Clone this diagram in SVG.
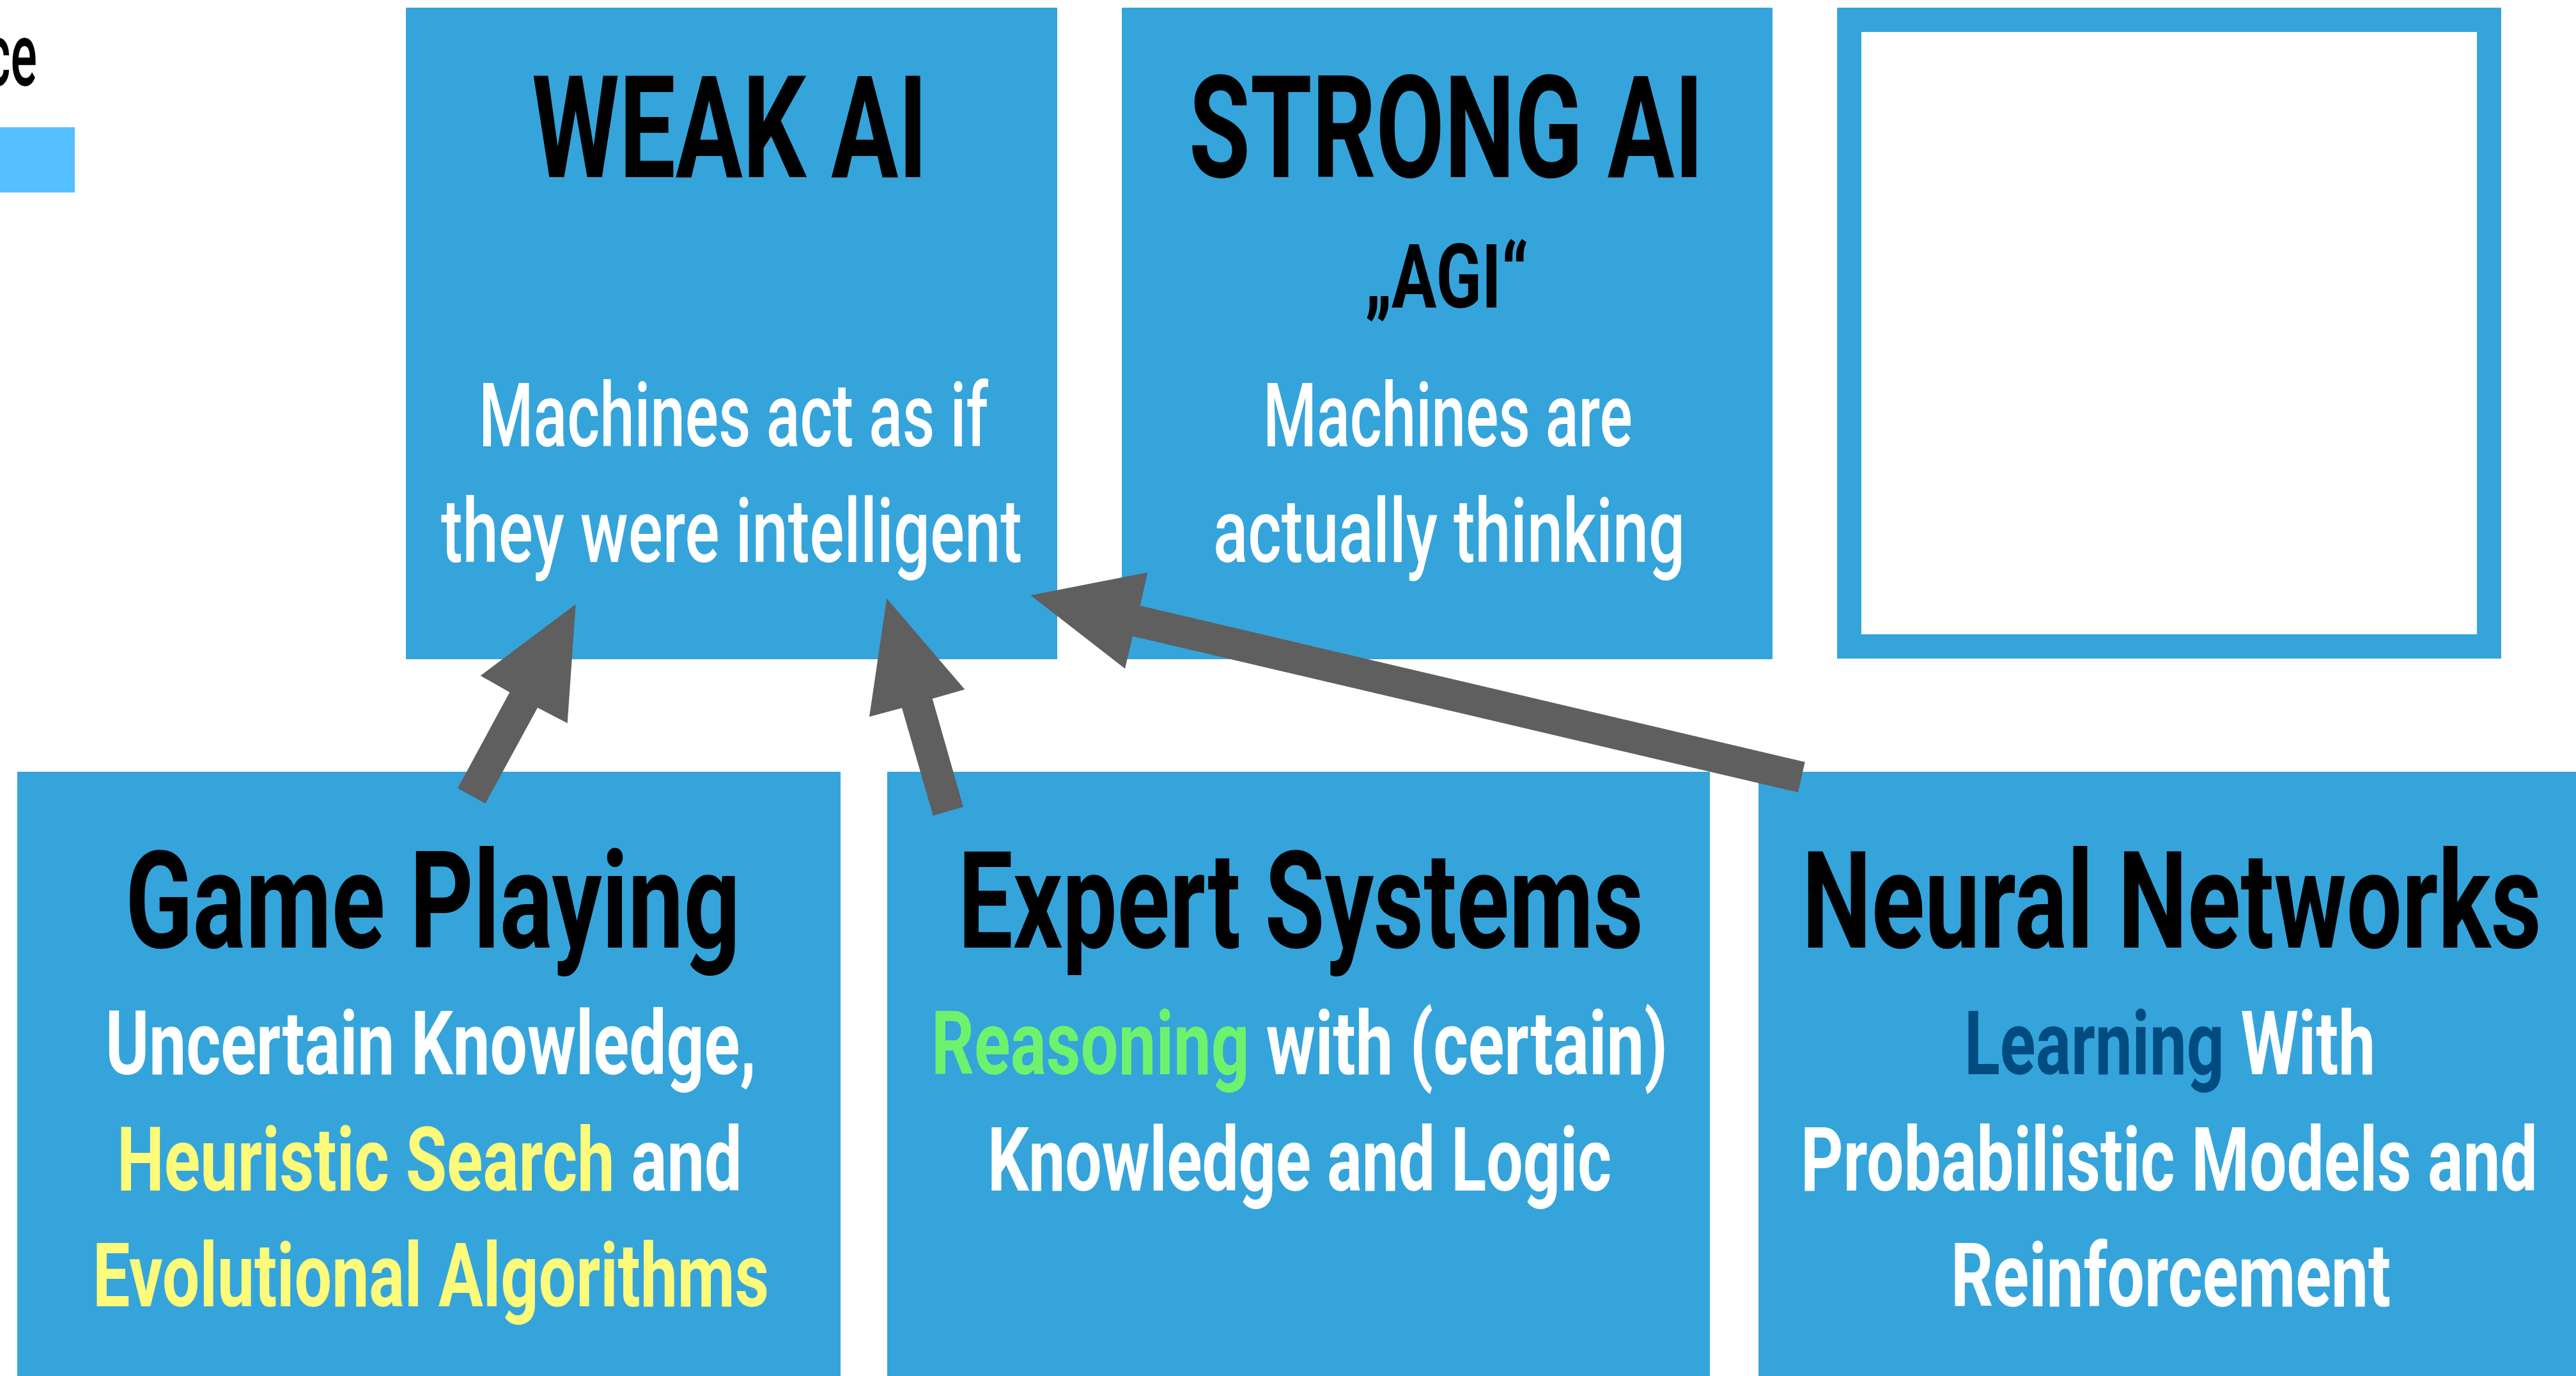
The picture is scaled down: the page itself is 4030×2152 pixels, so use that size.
<svg xmlns="http://www.w3.org/2000/svg" width="4030" height="2152" viewBox="0 0 4030 2152">
  <style>
    .box { fill: #35A4DB; }
    .frame { fill: none; stroke: #35A4DB; stroke-width: 38; }
    .legend { fill: #56BFFF; }
    text { font-family: Roboto, "Liberation Sans", "DejaVu Sans", sans-serif; }
    .title { font-size: 223px; font-weight: 700; fill: #000; }
    .head { font-size: 211px; font-weight: 700; fill: #000; }
    .body { font-size: 139px; font-weight: 500; fill: #fff; }
    .strong { font-size: 139px; font-weight: 700; fill: #fff; }
    .dark { fill: #000; }
    .yellow { fill: #FFFB7A; }
    .green { fill: #6EF26E; }
    .navy { fill: #004C80; }
    .arrow { fill: #5F5F5F; }
  </style>

  <rect width="4030" height="2152" fill="#fff"/>

  <!-- Text layers are drawn in a narrowed coordinate space (x scaled by 0.65)
       to give the condensed headline look; x and textLength are in that space. -->

  <!-- heading fragment and colour key at the left edge -->
  <g id="legend">
    <rect class="legend" x="0" y="199" width="117" height="102"/>
    <g transform="scale(0.65 1)">
      <text class="body dark" x="-36.9" y="134" textLength="126.2" lengthAdjust="spacingAndGlyphs">ce</text>
    </g>
  </g>

  <!-- upper row -->
  <g id="weak-ai">
    <rect class="box" x="635" y="12" width="1019" height="1019"/>
    <g transform="scale(0.65 1)">
      <text class="title" x="1280" y="277" textLength="952.3" lengthAdjust="spacingAndGlyphs">WEAK AI</text>
      <text class="body" x="1152.3" y="698" textLength="1226.2" lengthAdjust="spacingAndGlyphs">Machines act as if</text>
      <text class="body" x="1061.5" y="879" textLength="1398.5" lengthAdjust="spacingAndGlyphs">they were intelligent</text>
    </g>
  </g>

  <g id="strong-ai">
    <rect class="box" x="1755" y="12" width="1018" height="1019"/>
    <g transform="scale(0.65 1)">
      <text class="title" x="2861.5" y="277" textLength="1238.5" lengthAdjust="spacingAndGlyphs">STRONG AI</text>
      <text class="strong dark" x="3284.6" y="481" textLength="393.8" lengthAdjust="spacingAndGlyphs">„AGI“</text>
      <text class="body" x="3040" y="698" textLength="889.2" lengthAdjust="spacingAndGlyphs">Machines are</text>
      <text class="body" x="2920" y="879" textLength="1135.4" lengthAdjust="spacingAndGlyphs">actually thinking</text>
    </g>
  </g>

  <g id="empty-frame">
    <rect class="frame" x="2893" y="31" width="1001" height="980"/>
  </g>

  <!-- lower row -->
  <g id="game-playing">
    <rect class="box" x="27" y="1207" width="1288" height="945"/>
    <g transform="scale(0.65 1)">
      <text class="head" x="301.5" y="1482" textLength="1480" lengthAdjust="spacingAndGlyphs">Game Playing</text>
      <text class="strong" x="253.8" y="1680" textLength="1566.2" lengthAdjust="spacingAndGlyphs">Uncertain Knowledge,</text>
      <text class="strong" x="281.5" y="1862" textLength="1504.6" lengthAdjust="spacingAndGlyphs"><tspan class="yellow">Heuristic Search</tspan> and</text>
      <text class="strong yellow" x="223.1" y="2043" textLength="1627.7" lengthAdjust="spacingAndGlyphs">Evolutional Algorithms</text>
    </g>
  </g>

  <g id="expert-systems">
    <rect class="box" x="1388" y="1207" width="1287" height="945"/>
    <g transform="scale(0.65 1)">
      <text class="head" x="2306.2" y="1482" textLength="1649.2" lengthAdjust="spacingAndGlyphs">Expert Systems</text>
      <text class="strong" x="2241.5" y="1680" textLength="1772.3" lengthAdjust="spacingAndGlyphs"><tspan class="green">Reasoning</tspan> with (certain)</text>
      <text class="strong" x="2376.9" y="1862" textLength="1501.5" lengthAdjust="spacingAndGlyphs">Knowledge and Logic</text>
    </g>
  </g>

  <g id="neural-networks">
    <rect class="box" x="2751" y="1207" width="1290" height="945"/>
    <g transform="scale(0.65 1)">
      <text class="head" x="4336.9" y="1482" textLength="1780" lengthAdjust="spacingAndGlyphs">Neural Networks</text>
      <text class="strong" x="4727.7" y="1680" textLength="989.2" lengthAdjust="spacingAndGlyphs"><tspan class="navy">Learning</tspan> With</text>
      <text class="strong" x="4333.8" y="1862" textLength="1773.8" lengthAdjust="spacingAndGlyphs">Probabilistic Models and</text>
      <text class="strong" x="4695.4" y="2043" textLength="1058.5" lengthAdjust="spacingAndGlyphs">Reinforcement</text>
    </g>
  </g>

  <!-- block arrows pointing up into WEAK AI -->
  <g id="connectors">
    <polygon class="arrow" points="900.7,945 887.7,1131 841,1106.7 759.3,1256.7 716,1232.7 797.3,1082.7 751.7,1056.7"/>
    <polygon class="arrow" points="1387.3,936 1509.3,1078.3 1458.7,1092.7 1507,1262 1459.7,1275.7 1411,1107.3 1360,1121"/>
    <polygon class="arrow" points="1612.3,931 1795.3,895.3 1783.7,947.3 2823.7,1191.7 2813,1239.3 1772,995 1760,1045.7"/>
  </g>
</svg>
